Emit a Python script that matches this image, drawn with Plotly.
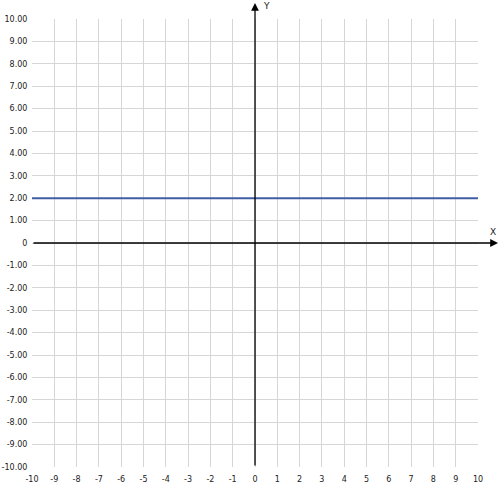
import plotly.graph_objects as go

x_vals = [-10, 10]
y_vals = [2, 2]
x_ticks = list(range(-10, 11))
x_tick_labels = [str(v) for v in x_ticks]
y_ticks = list(range(-10, 11))
y_tick_labels = ["0" if v == 0 else f"{v:.2f}" for v in y_ticks]

L, R, T, B = 32, 22, 19, 28
W, H = 500, 495
pw = W - L - R
ph = H - T - B

fig = go.Figure()
fig.add_trace(go.Scatter(x=x_vals, y=y_vals, mode="lines",
                         line=dict(color="#3f5ea3", width=2), hoverinfo="skip"))

font = dict(family="DejaVu Sans", size=8, color="#222222")
fig.update_layout(
    width=W, height=H, margin=dict(l=L, r=R, t=T, b=B, autoexpand=False),
    paper_bgcolor="white", plot_bgcolor="white", showlegend=False,
    xaxis=dict(range=[-10, 10], tickvals=x_ticks, ticktext=x_tick_labels,
               showgrid=True, gridcolor="#d6d6d6", gridwidth=1, zeroline=False,
               showline=False, ticks="outside", ticklen=4, tickcolor="rgba(0,0,0,0)",
               tickfont=font, fixedrange=True, automargin=False),
    yaxis=dict(range=[-10, 10], tickvals=y_ticks, ticktext=y_tick_labels,
               showgrid=True, gridcolor="#d6d6d6", gridwidth=1, zeroline=False,
               showline=False, ticks="outside", ticklen=2, tickcolor="rgba(0,0,0,0)",
               tickfont=font, fixedrange=True, automargin=False),
)

# y axis with arrow
tip_y = 1 + 16 / ph
fig.add_annotation(xref="paper", yref="paper", x=0.5, y=tip_y, ax=0, ay=ph + 16,
                   axref="pixel", ayref="pixel", showarrow=True, text="",
                   arrowhead=2, arrowsize=1.2, arrowwidth=1.3, arrowcolor="#000000")
# x axis with arrow
tip_x = (498 - L) / pw
fig.add_annotation(xref="paper", yref="paper", x=tip_x, y=0.5, ax=-(498 - L), ay=0,
                   axref="pixel", ayref="pixel", showarrow=True, text="",
                   arrowhead=2, arrowsize=1.2, arrowwidth=1.3, arrowcolor="#000000")
fig.add_annotation(xref="paper", yref="paper", x=(493 - L) / pw, y=1 - (232 - T) / ph,
                   xanchor="center", yanchor="middle",
                   text="X", showarrow=False, font=dict(family="DejaVu Sans", size=9, color="#222222"))
fig.add_annotation(xref="paper", yref="paper", x=(266 - L) / pw, y=1 - (6 - T) / ph,
                   xanchor="center", yanchor="middle",
                   text="Y", showarrow=False, font=dict(family="DejaVu Sans", size=9, color="#222222"))

fig.write_html("out.html", config={"displayModeBar": False},
               post_script="document.body.style.margin='0';document.body.style.overflow='hidden';")
